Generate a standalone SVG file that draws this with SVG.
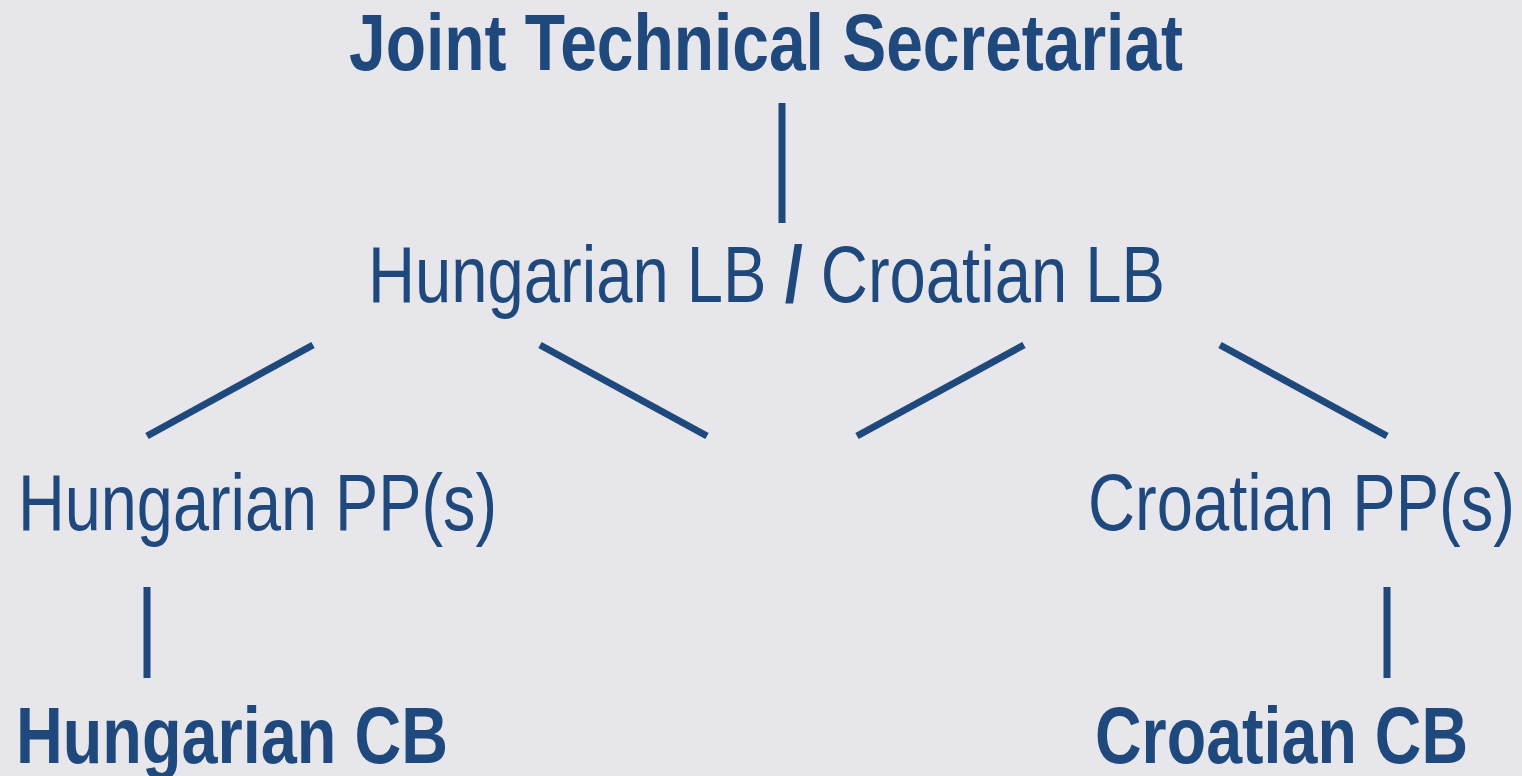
<svg xmlns="http://www.w3.org/2000/svg" width="1522" height="776" viewBox="0 0 1522 776">
<style>
.t{font-family:"Liberation Sans",Arial,sans-serif;font-size:80px;fill:#1F497D}
.b{font-weight:bold}
.c{stroke:#1F497D;stroke-width:7;fill:none}
</style>
<rect width="1522" height="776" fill="#E6E6EB"/>
<g id="connectors">
<line class="c" x1="782" y1="103" x2="782" y2="223"/>
<line class="c" x1="313" y1="345" x2="147" y2="436"/>
<line class="c" x1="540" y1="345" x2="707" y2="436"/>
<line class="c" x1="1024" y1="345" x2="857" y2="436"/>
<line class="c" x1="1220" y1="345" x2="1387" y2="436"/>
<line class="c" x1="147" y1="587" x2="147" y2="678"/>
<line class="c" x1="1387" y1="587" x2="1387" y2="678"/>
</g>
<g id="jts"><text class="t b" x="349" y="70" textLength="834" lengthAdjust="spacingAndGlyphs">Joint Technical Secretariat</text></g>
<g id="lb"><text class="t" x="368" y="302" textLength="797" lengthAdjust="spacingAndGlyphs">Hungarian LB <tspan class="b">/</tspan> Croatian LB</text></g>
<g id="hupp"><text class="t" x="18" y="530" textLength="479" lengthAdjust="spacingAndGlyphs">Hungarian PP(s)</text></g>
<g id="hrpp"><text class="t" x="1088" y="530" textLength="427" lengthAdjust="spacingAndGlyphs">Croatian PP(s)</text></g>
<g id="hucb"><text class="t b" x="16" y="763" textLength="432" lengthAdjust="spacingAndGlyphs">Hungarian CB</text></g>
<g id="hrcb"><text class="t b" x="1095" y="763" textLength="373" lengthAdjust="spacingAndGlyphs">Croatian CB</text></g>
</svg>
